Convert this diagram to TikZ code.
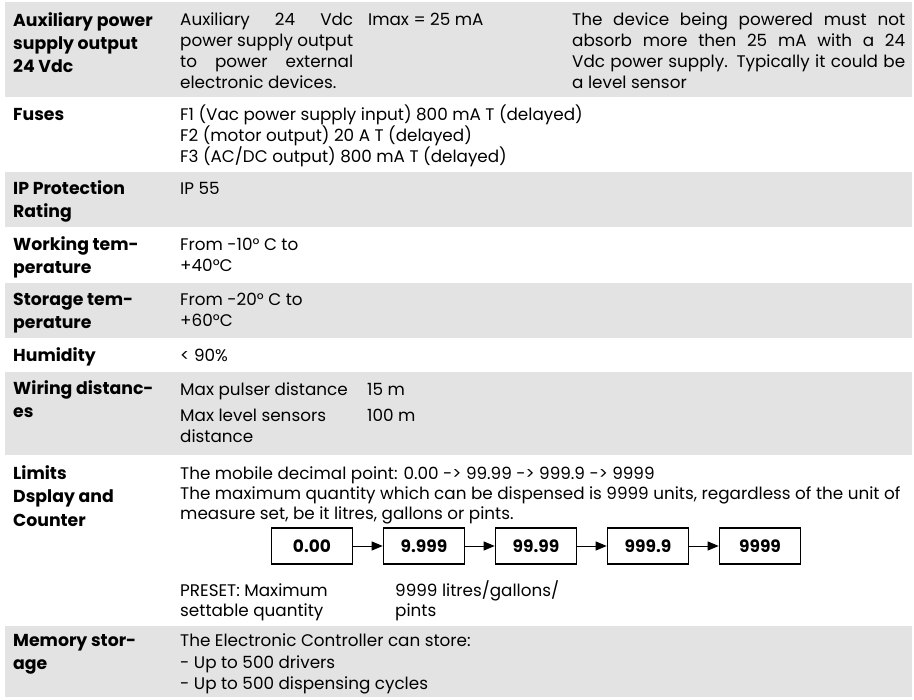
\documentclass[tikz,border=0pt]{standalone}
\usepackage{fontspec}
\setmainfont{Poppins}
\usetikzlibrary{arrows.meta}
\definecolor{rowgray}{RGB}{227,227,227}
\tikzset{
 lbl/.style={anchor=base west, inner sep=0pt, font=\fontsize{17.3}{20}\selectfont\bfseries},
 txt/.style={anchor=base west, inner sep=0pt, font=\fontsize{16.8}{20}\selectfont},
 valbox/.style={draw=black, line width=1.6pt, minimum width=81pt, minimum height=36pt, inner sep=0pt, font=\fontsize{17}{20}\selectfont\bfseries},
 flow/.style={line width=0.9pt, -{Triangle[length=11pt,width=9pt]}},
 band/.style={fill=rowgray, draw=none}
}
\begin{document}
\begin{tikzpicture}[x=1pt,y=-1pt]
\useasboundingbox (0,0) rectangle (914,700);
% bands
\fill[band] (5,2) rectangle (912,97);
\fill[band] (5,172) rectangle (912,227);
\fill[band] (5,283) rectangle (912,338);
\fill[band] (5,372) rectangle (912,455);
\fill[band] (5,626) rectangle (912,697);
% row 1
\node[lbl] (l1a) at (13,27) {Auxiliary power};
\node[lbl] (l1b) at (13,50) {supply output};
\node[lbl] (l1c) at (13,73) {24 Vdc};
\node[txt] (c1a) at (180,26) {\makebox[173pt][s]{Auxiliary 24 Vdc}};
\node[txt] (c1b) at (180,47) {\makebox[173pt][s]{power supply output}};
\node[txt] (c1c) at (180,68) {\makebox[173pt][s]{to power external}};
\node[txt] (c1d) at (180,89) {electronic devices.};
\node[txt] (i1) at (368,26) {Imax = 25 mA};
\node[txt] (d1a) at (572,26) {\makebox[333pt][s]{The device being powered must not}};
\node[txt] (d1b) at (572,47) {\makebox[333pt][s]{absorb more then 25 mA with a 24}};
\node[txt] (d1c) at (572,68) {\makebox[333pt][s]{Vdc power supply. Typically it could be}};
\node[txt] (d1d) at (572,89) {a level sensor};
% fuses
\node[lbl] (l2) at (13,121) {Fuses};
\node[txt] (f1) at (180,121) {F1 (Vac power supply input) 800 mA T (delayed)};
\node[txt] (f2) at (180,142) {F2 (motor output) 20 A T (delayed)};
\node[txt] (f3) at (180,163) {F3 (AC/DC output) 800 mA T (delayed)};
% IP
\node[lbl] (l3a) at (13,195) {IP Protection};
\node[lbl] (l3b) at (13,218) {Rating};
\node[txt] (ip) at (180,195) {IP 55};
% working
\node[lbl] (l4a) at (13,251) {Working tem-};
\node[lbl] (l4b) at (13,274) {perature};
\node[txt] (w1) at (180,251) {From -10° C to};
\node[txt] (w2) at (180,272) {+40°C};
% storage
\node[lbl] (l5a) at (13,306) {Storage tem-};
\node[lbl] (l5b) at (13,329) {perature};
\node[txt] (s1) at (180,306) {From -20° C to};
\node[txt] (s2) at (180,327) {+60°C};
% humidity
\node[lbl] (l6) at (13,362) {Humidity};
\node[txt] (h1) at (180,362) {< 90\%};
% wiring
\node[lbl] (l7a) at (13,395) {Wiring distanc-};
\node[lbl] (l7b) at (13,418) {es};
\node[txt] (wd1) at (180,396) {Max pulser distance};
\node[txt] (wv1) at (367,396) {15 m};
\node[txt] (wd2) at (180,422) {Max level sensors};
\node[txt] (wd3) at (180,443) {distance};
\node[txt] (wv2) at (367,422) {100 m};
% limits
\node[lbl] (l8a) at (13,480) {Limits};
\node[lbl] (l8b) at (13,503) {Dsplay and};
\node[lbl] (l8c) at (13,527) {Counter};
\node[txt] (m1) at (180,480) {The mobile decimal point: 0.00 -> 99.99 -> 999.9 -> 9999};
\node[txt] (m2) at (180,500) {The maximum quantity which can be dispensed is 9999 units, regardless of the unit of};
\node[txt] (m3) at (180,520) {measure set, be it litres, gallons or pints.};
\node[valbox] (b1) at (312,546) {0.00};
\node[valbox] (b2) at (424,546) {9.999};
\node[valbox] (b3) at (536,546) {99.99};
\node[valbox] (b4) at (648,546) {999.9};
\node[valbox] (b5) at (760,546) {9999};
\draw[flow] (b1) -- (b2);
\draw[flow] (b2) -- (b3);
\draw[flow] (b3) -- (b4);
\draw[flow] (b4) -- (b5);
\node[txt] (p1) at (180,597) {PRESET: Maximum};
\node[txt] (p2) at (180,617) {settable quantity};
\node[txt] (p3) at (395,597) {9999 litres/gallons/};
\node[txt] (p4) at (395,617) {pints};
% memory
\node[lbl] (l9a) at (13,647) {Memory stor-};
\node[lbl] (l9b) at (13,670) {age};
\node[txt] (e1) at (180,647) {The Electronic Controller can store:};
\node[txt] (e2) at (180,668) {- Up to 500 drivers};
\node[txt] (e3) at (180,689) {- Up to 500 dispensing cycles};
\end{tikzpicture}
\end{document}
